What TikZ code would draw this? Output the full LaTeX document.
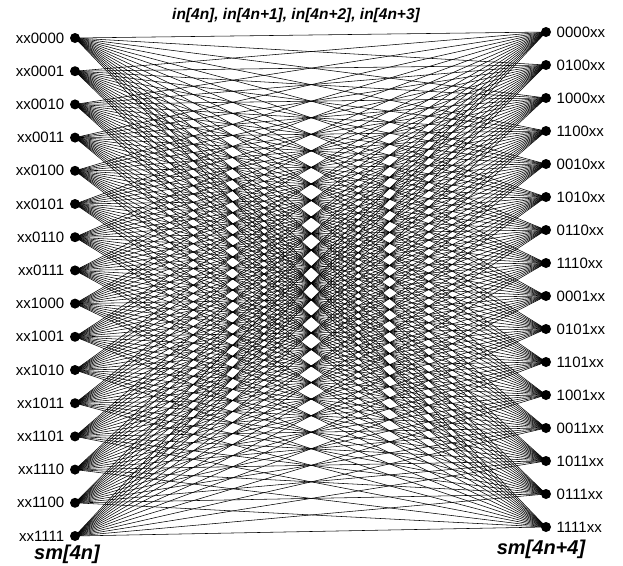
\documentclass[tikz,border=0pt]{standalone}
\usepackage{fontspec}
\setmainfont{Liberation Sans}
\usetikzlibrary{positioning}

\begin{document}
\begin{tikzpicture}[x=1pt,y=-1pt,
  every node/.style={font=\fontsize{15}{17}\selectfont},
  dot/.style={circle,fill,inner sep=0pt,minimum size=10pt},
  edge/.style={line width=0.55pt},
  axis/.style={font=\fontsize{20}{22}\selectfont\bfseries\itshape}]
\useasboundingbox (0,0) rectangle (623,565);
% states before the step
\foreach \lab [count=\i from 0] in {xx0000,xx0001,xx0010,xx0011,xx0100,xx0101,xx0110,xx0111,xx1000,xx1001,xx1010,xx1011,xx1101,xx1110,xx1100,xx1111}
  \node[dot,label={[label distance=2pt]left:\lab}] (l\i) at (75,{38+33.2*\i}) {};
% states after the step
\foreach \lab [count=\i from 0] in {0000xx,0100xx,1000xx,1100xx,0010xx,1010xx,0110xx,1110xx,0001xx,0101xx,1101xx,1001xx,0011xx,1011xx,0111xx,1111xx}
  \node[dot,label={[label distance=2pt]right:\lab}] (r\i) at (546,{32+33*\i}) {};
% every branch
\foreach \i in {0,...,15}
  \foreach \j in {0,...,15}
    \draw[edge] (l\i.center) -- (r\j.center);
\node[font=\fontsize{15.5}{17}\selectfont\bfseries\itshape] (inp) at (296,15) {in[4n], in[4n+1], in[4n+2], in[4n+3]};
\node[axis] (smL) at (67,554) {sm[4n]};
\node[axis] (smR) at (541,549) {sm[4n+4]};
\end{tikzpicture}
\end{document}
